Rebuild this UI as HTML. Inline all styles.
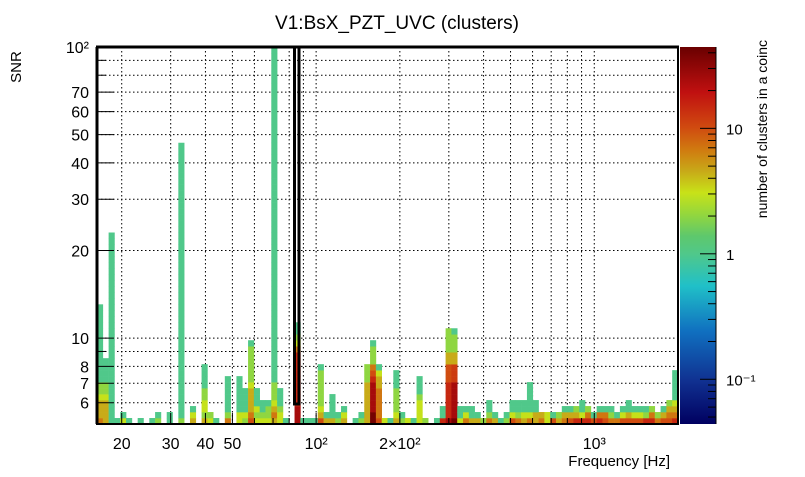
<!DOCTYPE html>
<html><head><meta charset="utf-8"><style>
html,body{margin:0;padding:0;background:#fff;}
svg text{font-family:"Liberation Sans",Arial,sans-serif;fill:#000;}
</style></head><body>
<svg id="chart" width="805" height="472" viewBox="0 0 805 472" xmlns="http://www.w3.org/2000/svg">
<defs>
<linearGradient id="cbgrad" x1="0" y1="1" x2="0" y2="0"></linearGradient>
</defs>
<text x="397" y="29" font-size="19" text-anchor="middle">V1:BsX_PZT_UVC (clusters)</text>
<text x="0" y="0" font-size="15" text-anchor="middle" transform="translate(21,67) rotate(-90)">SNR</text>
<text x="670" y="466" font-size="15" text-anchor="end">Frequency [Hz]</text>
<text x="0" y="0" font-size="14" text-anchor="end" transform="translate(767,40) rotate(-90)">number of clusters in a coinc</text>
<g id="grid"></g>
<g id="cells"></g>
<g id="axes"></g>
<g id="cbar"></g>
</svg>
<script>
// ---- data ----
const xRange = [16.3, 2000];
const yRange = [5.07, 100];
const nXBins = 100;
const nYBins = 63;
const xTickValues = [20,30,40,50,60,70,80,90,100,200,300,400,500,600,700,800,900,1000,2000];
const xTickLabels = {20:"20",30:"30",40:"40",50:"50",100:"10²",200:"2×10²",1000:"10³"};
const yTickValues = [6,7,8,9,10,20,30,40,50,60,70,80,90,100];
const yTickLabels = {6:"6",7:"7",8:"8",10:"10",20:"20",30:"30",40:"40",50:"50",60:"60",70:"70",100:"10²"};
const zRange = [0.044, 44.5];
const zTickLabels = [[0.1,"10⁻¹"],[1,"1"],[10,"10"]];
// columns: per x bin, runs of [count value, number of SNR bins] from bottom up
const columns = [
[[7,1],[4.5,3],[3,1],[2,2],[1,13]],
[[4.5,4],[3,1],[2,2],[1,4]],
[[1,32]],
[[1,1]],
[[3,1],[1,1]],
[[1,1]],
[],
[[1,1]],
[],
[[1,1]],
[[2,1],[1,1]],
[],
[[1,2]],
[],
[[2,1],[1,46]],
[],
[[4.5,1],[3,1],[1,1]],
[],
[[4.5,1],[2,1],[3,2],[2,2],[1,4]],
[[3,1],[2,1]],
[[1,1]],
[],
[[7,1],[2,1],[1,6]],
[],
[[3,2],[1,6]],
[[2,1],[3,1],[1,4]],
[[10,1],[7,1],[4.5,4],[3,1],[2,6],[1,1]],
[[3,1],[2,1],[3,1],[1,3]],
[[3,1],[2,1],[1,2]],
[[3,1],[2,2],[1,1]],
[[4.5,1],[7,1],[4.5,1],[3,1],[2,3],[1,56]],
[[3,2],[2,1],[1,3]],
[[1,1]],
[],
[[25,3],[15,9],[7,1],[3,1],[2,1],[1,2]],
[[1,1]],
[[1,1]],
[[1,1]],
[[10,1],[4.5,1],[3,1],[2,6],[1,1]],
[[4.5,1],[1,1]],
[[4.5,1],[1,4]],
[[2,1],[1,1]],
[[4.5,1],[3,1],[1,1]],
[],
[[1,1]],
[[2,1],[1,1]],
[[4.5,7],[2,3]],
[[40,2],[25,5],[15,1],[10,1],[7,1],[2,3],[1,1]],
[[10,1],[7,5],[4.5,2],[3,1],[1,1]],
[[3,1]],
[[1,1]],
[[4.5,1],[3,1],[2,4],[1,3]],
[[2,1],[1,1]],
[[3,1]],
[[1,1]],
[[3,4],[2,1],[1,3]],
[[2,1]],
[],
[[1,1]],
[[15,1],[1,2]],
[[25,1],[15,6],[10,3],[4.5,2],[2,4]],
[[40,1],[25,6],[12,3],[4.5,2],[2,3],[1,1]],
[[3,1],[1,2]],
[[7,1],[3,1],[1,1]],
[[4.5,1],[1,2]],
[[4.5,1],[1,1]],
[[2,1]],
[[7,1],[2,1],[1,2]],
[[4.5,1],[1,1]],
[[1,1]],
[[2,1],[1,1]],
[[10,1],[3,1],[1,2]],
[[7,1],[2,1],[1,2]],
[[4.5,1],[3,1],[1,2]],
[[7,1],[3,1],[1,5]],
[[4.5,2],[1,2]],
[[7,1],[4.5,1]],
[[3,2]],
[[10,1],[1,1]],
[[4.5,1],[2,1]],
[[7,1],[4.5,1],[1,1]],
[[10,1],[4.5,1],[1,1]],
[[15,1],[4.5,1],[2,1]],
[[15,1],[3,1],[1,2]],
[[15,1],[7,1],[2,1]],
[[10,1],[1,1]],
[[15,1],[7,1],[1,1]],
[[10,1],[7,1],[1,1]],
[[7,1],[2,1],[1,1]],
[[7,1],[1,1]],
[[10,1],[3,1],[1,1]],
[[10,1],[4.5,1],[1,2]],
[[10,1],[3,1],[1,1]],
[[10,1],[3,1],[1,1]],
[[15,1],[2,1],[1,1]],
[[15,1],[7,1],[2,1]],
[[7,1],[2,1]],
[[10,1],[4.5,1],[1,1]],
[[10,1],[7,1],[4.5,1],[2,1]],
[[15,1],[7,1],[4.5,1],[3,1],[1,5]]
];
// colour palette stops (value, colour)
const paletteValues = [0.044,0.096,0.242,0.555,1,1.39,2.01,3.07,4.61,6.66,10.2,19.4,44.5];
const paletteColors = ["#000060","#103090","#1070c0","#20c0c8","#50c88a","#5ec86c","#90d640","#c8e218","#c8a818","#d07c10","#d04a10","#c01010","#6a0000"];

// ---- layout ----
const PL=97, PR=678, PT=47, PB=424;
const CBL=680, CBR=716;
const NS="http://www.w3.org/2000/svg";
function xs(f){return PL+(PR-PL)*(Math.log10(f/xRange[0]))/Math.log10(xRange[1]/xRange[0]);}
function ys(v){return PB-(PB-PT)*(Math.log10(v/yRange[0]))/Math.log10(yRange[1]/yRange[0]);}
function zs(v){return PB-(PB-PT)*(Math.log10(v/zRange[0]))/Math.log10(zRange[1]/zRange[0]);}
function hex(c){return [parseInt(c.slice(1,3),16),parseInt(c.slice(3,5),16),parseInt(c.slice(5,7),16)];}
function colorFor(v){
  const lv=Math.log10(v);
  for(let i=0;i<paletteValues.length-1;i++){
    const a=Math.log10(paletteValues[i]),b=Math.log10(paletteValues[i+1]);
    if(lv<=b||i===paletteValues.length-2){
      let t=Math.max(0,Math.min(1,(lv-a)/(b-a)));
      const c1=hex(paletteColors[i]),c2=hex(paletteColors[i+1]);
      return "rgb("+c1.map((c,k)=>Math.round(c+(c2[k]-c)*t)).join(",")+")";
    }
  }
}
function mk(tag,attrs,parent){const e=document.createElementNS(NS,tag);for(const k in attrs)e.setAttribute(k,attrs[k]);parent.appendChild(e);return e;}
const lxr=Math.log10(xRange[1]/xRange[0]), lyr=Math.log10(yRange[1]/yRange[0]);
function xEdge(i){return xRange[0]*Math.pow(10,lxr*i/nXBins);}
function yEdge(j){return yRange[0]*Math.pow(10,lyr*j/nYBins);}

// grid
const grid=document.getElementById('grid');
xTickValues.forEach(v=>{
  const x=xs(v);
  const l=mk('line',{x1:x,x2:x,y1:PT,y2:PB,stroke:'#000','stroke-width':1,'stroke-dasharray':'1.5,2.5'},grid);
  
  
});
yTickValues.forEach(v=>{
  const y=ys(v);
  const l=mk('line',{x1:PL,x2:PR,y1:y,y2:y,stroke:'#000','stroke-width':1,'stroke-dasharray':'1.5,2.5'},grid);
  
  
});

// cells
const cells=document.getElementById('cells');
columns.forEach((runs,i)=>{
  const x0=xs(xEdge(i)), x1=xs(xEdge(i+1));
  let j=0;
  runs.forEach(r=>{
    for(let k=0;k<r[1];k++){
      const y0=ys(yEdge(j+1)), y1=ys(yEdge(j));
      const c=mk('rect',{x:x0,y:y0,width:x1-x0+0.3,height:y1-y0+0.3,fill:colorFor(r[0])},cells);
      
      
      j++;
    }
  });
});

// axes and frame
const axes=document.getElementById('axes');
mk('rect',{x:PL,y:PT,width:PR-PL,height:PB-PT,fill:'none',stroke:'#000','stroke-width':2},axes);
mk('line',{x1:PL-1,x2:PR+1,y1:PT,y2:PT,stroke:'#000','stroke-width':3},axes);
mk('line',{x1:PL,x2:PL,y1:PT,y2:PB,stroke:'#000','stroke-width':3},axes);
const box=mk('rect',{x:294.5,y:PT,width:4.5,height:357,fill:'none',stroke:'#000','stroke-width':3},axes);


xTickValues.forEach(v=>{
  const x=xs(v), big=(v in xTickLabels);
  mk('line',{x1:x,x2:x,y1:PB,y2:PB-(big?11:6),stroke:'#000','stroke-width':1},axes);
  if(big){
    const t=mk('text',{x:x,y:PB+25,'font-size':16,'text-anchor':'middle'},axes);
    t.textContent=xTickLabels[v];
    
    
  }
});
yTickValues.forEach(v=>{
  const y=ys(v), big=(v in yTickLabels);
  mk('line',{x1:PL,x2:PL+(big?17:9),y1:y,y2:y,stroke:'#000','stroke-width':1},axes);
  if(big){
    const t=mk('text',{x:PL-8,y:y+6,'font-size':16,'text-anchor':'end'},axes);
    t.textContent=yTickLabels[v];
    
    
  }
});

// colorbar
const grad=document.getElementById('cbgrad');
paletteValues.forEach((v,i)=>{
  const off=Math.log10(v/zRange[0])/Math.log10(zRange[1]/zRange[0]);
  mk('stop',{offset:off,'stop-color':paletteColors[i]},grad);
});
const cbar=document.getElementById('cbar');
mk('rect',{x:CBL,y:PT,width:CBR-CBL,height:PB-PT,fill:'url(#cbgrad)'},cbar);
mk('line',{x1:CBR,x2:CBR,y1:PT,y2:PB,stroke:'#000','stroke-width':1},cbar);
const zMinor=[0.05,0.06,0.07,0.08,0.09,0.1,0.2,0.3,0.4,0.5,0.6,0.7,0.8,0.9,1,2,3,4,5,6,7,8,9,10,20,30,40];
zMinor.forEach(v=>{
  const y=zs(v), big=(v===0.1||v===1||v===10);
  mk('line',{x1:CBR,x2:CBR-(big?16:8),y1:y,y2:y,stroke:'#000','stroke-width':1},cbar);
});
zTickLabels.forEach(p=>{
  const t=mk('text',{x:CBR+10,y:zs(p[0])+6,'font-size':15},cbar);
  t.textContent=p[1];
  
  
});
</script>
</body></html>
